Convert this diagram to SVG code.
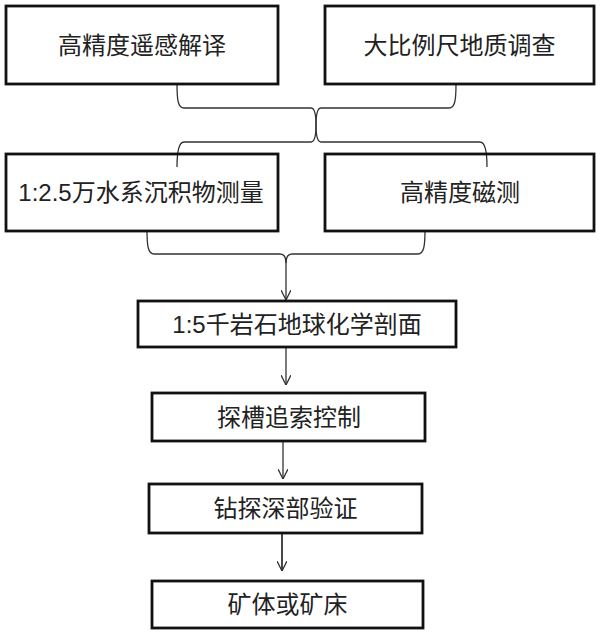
<svg xmlns="http://www.w3.org/2000/svg" width="600" height="634" viewBox="0 0 600 634">
<defs>
<style>
.box{fill:none;stroke:#111;stroke-width:2.8}
.lbl{font-family:"Liberation Sans","Noto Sans CJK SC",sans-serif;font-size:24px;fill:#222;text-anchor:middle}
.ln{fill:none;stroke:#333;stroke-width:1.3}
</style>
<marker id="arr" viewBox="0 0 10 10" refX="10" refY="5" markerWidth="10" markerHeight="10" markerUnits="userSpaceOnUse" orient="auto">
<path d="M0,0 L10,5 L0,10" fill="none" stroke="#333" stroke-width="1.3"/>
</marker>
</defs>
<rect width="600" height="634" fill="#fff"/>
<g id="connectors">
<path class="ln" d="M177,84 C177,100 178,108 184,108 H311 C315,108 316,118 316,125 C316,132 315,142 311,142 H184 C179,142 177,150 177,167"/>
<path class="ln" d="M456,84 C456,100 455,108 449,108 H321 C317,108 316,118 316,125 C316,132 317,142 321,142 H480 C485,142 487,150 487,167"/>
<path class="ln" d="M147,231 C147,245 148,254 154,254 H280 C284,254 286,258 286,263"/>
<path class="ln" d="M425,231 C425,245 424,254 418,254 H292 C288,254 286,258 286,263"/>
<line class="ln" x1="286" y1="263" x2="286" y2="300" marker-end="url(#arr)"/>
<line class="ln" x1="286" y1="347" x2="286" y2="385" marker-end="url(#arr)"/>
<line class="ln" x1="283" y1="441" x2="283" y2="479" marker-end="url(#arr)"/>
<line class="ln" x1="282" y1="533" x2="282" y2="571" marker-end="url(#arr)" style="stroke-width:1.8"/>
</g>
<g id="n1"><rect class="box" x="6" y="6" width="272" height="78"/><text class="lbl" x="142" y="54">高精度遥感解译</text></g>
<g id="n2"><rect class="box" x="325" y="6" width="269" height="78"/><text class="lbl" x="459.5" y="54">大比例尺地质调查</text></g>
<g id="n3"><rect class="box" x="6" y="154" width="272" height="77"/><text class="lbl" x="141" y="201">1:2.5万水系沉积物测量</text></g>
<g id="n4"><rect class="box" x="325" y="154" width="269" height="77"/><text class="lbl" x="460" y="201">高精度磁测</text></g>
<g id="n5"><rect class="box" x="138" y="301" width="318" height="46"/><text class="lbl" x="297" y="333">1:5千岩石地球化学剖面</text></g>
<g id="n6"><rect class="box" x="152" y="393" width="273" height="48"/><text class="lbl" x="289" y="426">探槽追索控制</text></g>
<g id="n7"><rect class="box" x="149" y="484" width="273" height="49"/><text class="lbl" x="285.5" y="517">钻探深部验证</text></g>
<g id="n8"><rect class="box" x="152" y="581" width="271" height="47"/><text class="lbl" x="287.5" y="613">矿体或矿床</text></g>
</svg>
